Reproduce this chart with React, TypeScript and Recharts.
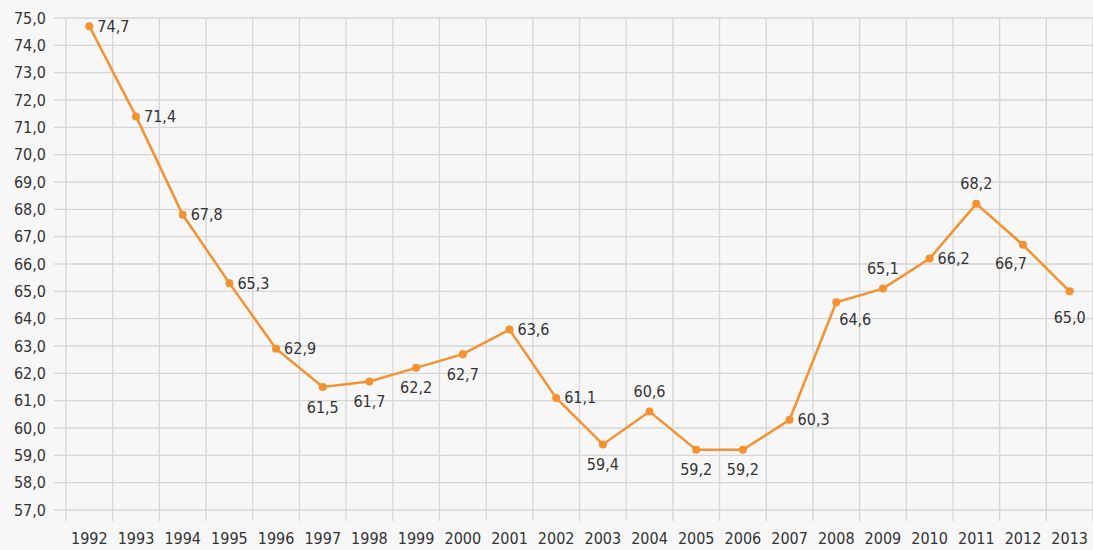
import React from "react";
import {
  CartesianGrid,
  LabelList,
  Line,
  LineChart,
  XAxis,
  YAxis,
} from "recharts";

const years = [
  "1992", "1993", "1994", "1995", "1996", "1997", "1998", "1999", "2000", "2001", "2002",
  "2003", "2004", "2005", "2006", "2007", "2008", "2009", "2010", "2011", "2012", "2013",
];

const values = [
  74.7, 71.4, 67.8, 65.3, 62.9, 61.5, 61.7, 62.2, 62.7, 63.6, 61.1,
  59.4, 60.6, 59.2, 59.2, 60.3, 64.6, 65.1, 66.2, 68.2, 66.7, 65.0,
];

const yTicks = [57, 58, 59, 60, 61, 62, 63, 64, 65, 66, 67, 68, 69, 70, 71, 72, 73, 74, 75];

const data = years.map((year, i) => ({ year, value: values[i] }));

const FONT = "'DejaVu Sans Condensed', 'DejaVu Sans', sans-serif";
const TEXT = "#333333";
const GRID = "#d6d6d6";
const ORANGE = "#f5922f";

const fmt = (v: number) => v.toFixed(1).replace(".", ",");

// where each point label sits relative to its dot
const placement: Record<string, [number, number, "start" | "middle" | "end"]> = {
  right: [8, 0, "start"],
  below: [0, 20, "middle"],
  above: [0, -20, "middle"],
};
const labelSpot: Record<string, [number, number, "start" | "middle" | "end"]> = {
  "1997": placement.below,
  "1998": placement.below,
  "1999": placement.below,
  "2000": placement.below,
  "2003": placement.below,
  "2004": placement.above,
  "2005": placement.below,
  "2006": placement.below,
  "2008": [19, 17, "middle"],
  "2009": placement.above,
  "2011": placement.above,
  "2012": [-12, 19, "middle"],
  "2013": [0, 26, "middle"],
};

const PointLabel = (props: any) => {
  const { x, y, value, index } = props;
  const [dx, dy, anchor] = labelSpot[years[index]] ?? placement.right;
  return (
    <text
      x={x + dx}
      y={y + dy}
      textAnchor={anchor}
      dominantBaseline="central"
      fill={TEXT}
      fontSize={16}
      fontFamily={FONT}
    >
      {fmt(value)}
    </text>
  );
};

const YearTick = (props: any) => {
  const { x, y, payload, width, visibleTicksCount, index } = props;
  const step = width / visibleTicksCount;
  const top = y - 8;
  return (
    <g>
      <line x1={x - step / 2} x2={x - step / 2} y1={top} y2={top + 11} stroke={GRID} strokeWidth={1.3} />
      {index === visibleTicksCount - 1 && (
        <line x1={x + step / 2} x2={x + step / 2} y1={top} y2={top + 11} stroke={GRID} strokeWidth={1.3} />
      )}
      <text x={x} y={top + 34} textAnchor="middle" fill={TEXT} fontSize={16} fontFamily={FONT}>
        {payload.value}
      </text>
    </g>
  );
};

export default function App() {
  return (
    <div
      style={{
        position: "fixed",
        left: 0,
        top: 0,
        width: 1093,
        height: 550,
        background: "#f7f7f7",
      }}
    >
      <LineChart width={1093} height={550} data={data} margin={{ top: 18, right: 0, bottom: 0, left: 0 }}>
        <CartesianGrid
          stroke={GRID}
          strokeWidth={1.3}
          verticalCoordinatesGenerator={({ offset }: any) =>
            years.map((_, i) => offset.left + (i * offset.width) / years.length).concat(offset.left + offset.width)
          }
        />
        <XAxis
          dataKey="year"
          scale="band"
          interval={0}
          height={40}
          axisLine={false}
          tickLine={false}
          tick={<YearTick />}
        />
        <YAxis
          domain={[57, 75]}
          ticks={yTicks}
          interval={0}
          width={66}
          axisLine={false}
          tickSize={12}
          tickMargin={8}
          tickLine={{ stroke: GRID, strokeWidth: 1.3 }}
          tickFormatter={fmt}
          tick={{ fill: TEXT, fontSize: 16, fontFamily: FONT }}
        />
        <Line
          type="linear"
          dataKey="value"
          stroke={ORANGE}
          strokeWidth={2.5}
          dot={{ r: 4, fill: ORANGE, stroke: ORANGE, strokeWidth: 0 }}
          isAnimationActive={false}
        >
          <LabelList dataKey="value" content={<PointLabel />} />
        </Line>
      </LineChart>
    </div>
  );
}
